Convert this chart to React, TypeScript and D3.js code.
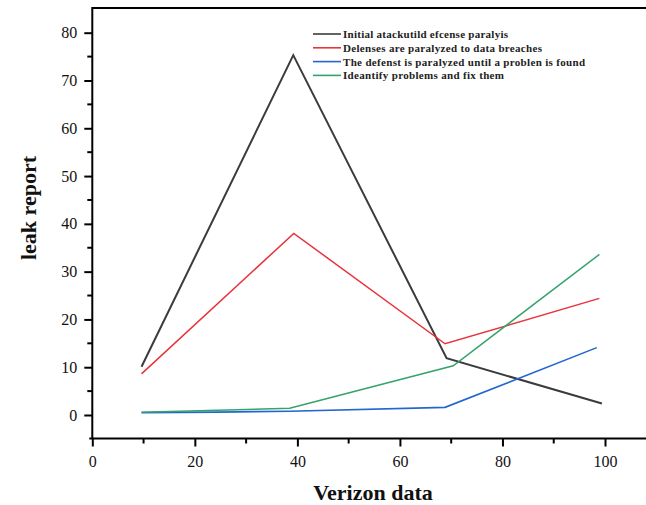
import React, { useEffect, useRef } from "react";
import * as d3 from "d3";

const seriesNames = [
  "Initial atackutild efcense paralyis",
  "Delenses are paralyzed to data breaches",
  "The defenst is paralyzed until a problen is found",
  "Ideantify problems and fix them",
];
const seriesColors = ["#3b3b3b", "#e8333c", "#2266d0", "#35a26c"];
const seriesWidths = [2, 1.5, 1.6, 1.5];

const blackX = [9.6, 39.2, 69.1, 99.4];
const blackY = [10.1, 75.3, 11.9, 2.4];
const redX = [9.6, 39.3, 68.8, 98.9];
const redY = [8.6, 38.0, 14.9, 24.4];
const blueX = [9.6, 24.3, 38.5, 68.8, 98.4];
const blueY = [0.5, 0.6, 0.8, 1.6, 14.1];
const greenX = [9.6, 38.5, 70.4, 98.9];
const greenY = [0.6, 1.4, 10.3, 33.6];

const xTicks = [0, 20, 40, 60, 80, 100];
const yTicks = [0, 10, 20, 30, 40, 50, 60, 70, 80];

const App = () => {
  const chartRef = useRef(null);
  useEffect(() => {
    if (!chartRef.current) return;
    d3.select(chartRef.current).select("svg").remove();
    const width = 646;
    const height = 505;
    const left = 92.3; // y axis position
    const bottom = 438.5; // x axis position
    const top = 8;

    const svg = d3
      .select(chartRef.current)
      .append("svg")
      .attr("width", width)
      .attr("height", height)
      .style("position", "absolute")
      .style("left", "0px")
      .style("top", "0px")
      .style("background", "#fff");

    const x = d3.scaleLinear().domain([0, 100]).range([left, 605]);
    const y = d3.scaleLinear().domain([0, 80]).range([415, 32.7]);

    // minor ticks
    const xMinor = d3.range(10, 110, 20);
    const yMinor = d3.range(5, 85, 10);

    const xAxis = svg
      .append("g")
      .attr("transform", `translate(0,${bottom})`)
      .call(d3.axisBottom(x).tickValues(xTicks).tickSize(8).tickPadding(9));
    xAxis.select(".domain").remove();
    xAxis.selectAll("line").attr("stroke", "#000").attr("stroke-width", 2);
    xAxis
      .selectAll("text")
      .attr("font-family", "Liberation Serif, serif")
      .attr("font-size", 16)
      .attr("fill", "#111");
    svg
      .append("g")
      .selectAll("line")
      .data(xMinor)
      .join("line")
      .attr("x1", (d) => x(d))
      .attr("x2", (d) => x(d))
      .attr("y1", bottom)
      .attr("y2", bottom + 5)
      .attr("stroke", "#000")
      .attr("stroke-width", 2);

    const yAxis = svg
      .append("g")
      .attr("transform", `translate(${left},0)`)
      .call(d3.axisLeft(y).tickValues(yTicks).tickSize(8).tickPadding(7));
    yAxis.select(".domain").remove();
    yAxis.selectAll("line").attr("stroke", "#000").attr("stroke-width", 2);
    yAxis
      .selectAll("text")
      .attr("font-family", "Liberation Serif, serif")
      .attr("font-size", 16)
      .attr("fill", "#111");
    svg
      .append("g")
      .selectAll("line")
      .data(yMinor)
      .join("line")
      .attr("x1", left)
      .attr("x2", left - 5)
      .attr("y1", (d) => y(d))
      .attr("y2", (d) => y(d))
      .attr("stroke", "#000")
      .attr("stroke-width", 2);

    // frame
    svg
      .append("path")
      .attr("d", `M${left - 3},${bottom}H${width}M${left},${bottom}V${top}M${left - 1},${top}H${width}`)
      .attr("stroke", "#000")
      .attr("stroke-width", 2)
      .attr("fill", "none");

    const data = [
      [blackX, blackY],
      [redX, redY],
      [blueX, blueY],
      [greenX, greenY],
    ];
    const line = d3
      .line()
      .x((d) => x(d[0]))
      .y((d) => y(d[1]));
    data.forEach(([xs, ys], i) => {
      svg
        .append("path")
        .datum(xs.map((v, j) => [v, ys[j]]))
        .attr("d", line)
        .attr("fill", "none")
        .attr("stroke", seriesColors[i])
        .attr("stroke-width", seriesWidths[i])
        .attr("stroke-linejoin", "miter");
    });

    // legend
    const textEnds = [508, 542, 585, 504];
    const legend = svg.append("g");
    seriesNames.forEach((name, i) => {
      const ly = 34 + i * 13.8;
      legend
        .append("line")
        .attr("x1", 313)
        .attr("x2", 341)
        .attr("y1", ly)
        .attr("y2", ly)
        .attr("stroke", seriesColors[i])
        .attr("stroke-width", 1.6);
      legend
        .append("text")
        .attr("x", 343)
        .attr("y", ly + 4)
        .attr("font-family", "Liberation Serif, serif")
        .attr("font-weight", "bold")
        .attr("font-size", 11)
        .attr("fill", "#222")
        .attr("textLength", textEnds[i] - 343)
        .attr("lengthAdjust", "spacing")
        .text(name);
    });

    // axis titles
    svg
      .append("text")
      .attr("x", 373)
      .attr("y", 500)
      .attr("text-anchor", "middle")
      .attr("font-family", "Liberation Serif, serif")
      .attr("font-weight", "bold")
      .attr("font-size", 22)
      .attr("fill", "#111")
      .text("Verizon data");
    svg
      .append("text")
      .attr("transform", `translate(36,208) rotate(-90)`)
      .attr("text-anchor", "middle")
      .attr("font-family", "Liberation Serif, serif")
      .attr("font-weight", "bold")
      .attr("font-size", 22)
      .attr("fill", "#111")
      .text("leak report");
  }, []);
  return <div ref={chartRef}></div>;
};

export default App;
